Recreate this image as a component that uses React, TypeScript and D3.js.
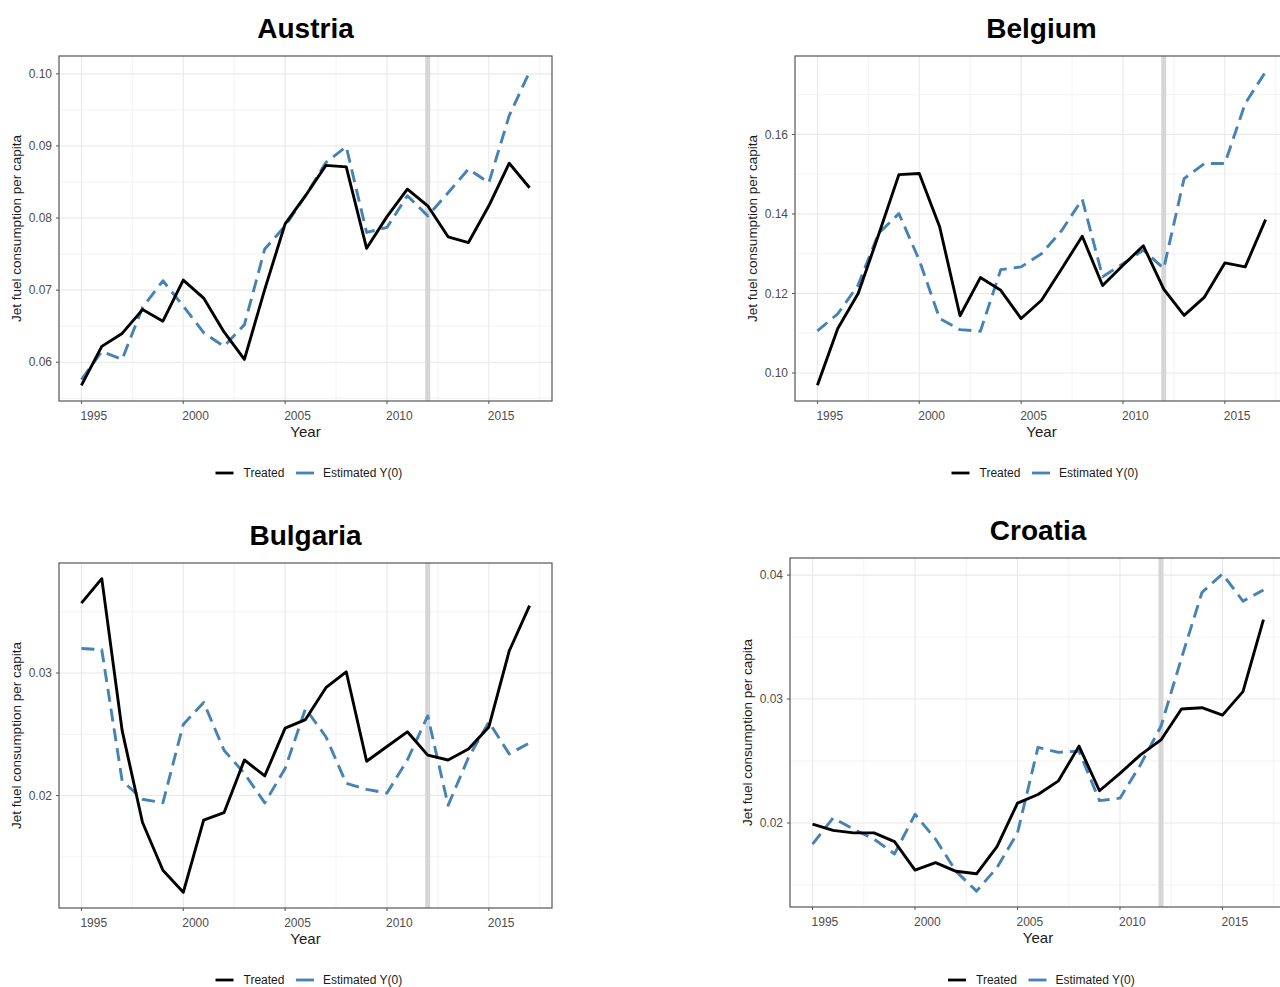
import React from "react";
import * as d3 from "d3";

// Years on the horizontal axis
const years = [
  1995, 1996, 1997, 1998, 1999, 2000, 2001, 2002, 2003, 2004, 2005, 2006,
  2007, 2008, 2009, 2010, 2011, 2012, 2013, 2014, 2015, 2016, 2017,
];

// Jet fuel consumption per capita: observed (treated) and synthetic estimate Y(0)
const austriaTreated = [
  0.0568, 0.0622, 0.064, 0.0673, 0.0657, 0.0714, 0.0689, 0.0642, 0.0604, 0.0701,
  0.0792, 0.0831, 0.0873, 0.0871, 0.0758, 0.0802, 0.084, 0.0817, 0.0774, 0.0766,
  0.0817, 0.0876, 0.0842,
];
const austriaEstimated = [
  0.0576, 0.0615, 0.0604, 0.0676, 0.0713, 0.0678, 0.0641, 0.0622, 0.0652, 0.0757,
  0.0789, 0.0831, 0.0877, 0.0899, 0.078, 0.0787, 0.0831, 0.0803, 0.0835, 0.0868,
  0.0849, 0.0942, 0.1003,
];
const belgiumTreated = [
  0.0969, 0.1112, 0.12, 0.1347, 0.1499, 0.1502, 0.1368, 0.1144, 0.124, 0.1208,
  0.1137, 0.1183, 0.1263, 0.1344, 0.122, 0.1271, 0.132, 0.1211, 0.1145, 0.1191,
  0.1277, 0.1267, 0.1386,
];
const belgiumEstimated = [
  0.1106, 0.1149, 0.1221, 0.1351, 0.1401, 0.1284, 0.1137, 0.1109, 0.1105, 0.126,
  0.1267, 0.13, 0.1359, 0.1437, 0.1242, 0.1275, 0.1309, 0.1263, 0.1489, 0.1527,
  0.1527, 0.1678, 0.1758,
];
const bulgariaTreated = [
  0.0357, 0.0377, 0.0253, 0.0178, 0.0139, 0.0121, 0.018, 0.0186, 0.0229, 0.0216,
  0.0255, 0.0262, 0.0288, 0.0301, 0.0228, 0.024, 0.0252, 0.0233, 0.0229, 0.0238,
  0.0256, 0.0318, 0.0355,
];
const bulgariaEstimated = [
  0.032, 0.0319, 0.0212, 0.0197, 0.0194, 0.0258, 0.0276, 0.0237, 0.0218, 0.0194,
  0.0222, 0.0271, 0.0248, 0.021, 0.0205, 0.0202, 0.0229, 0.0265, 0.0192, 0.0231,
  0.026, 0.0234, 0.0243,
];
const croatiaTreated = [
  0.0199, 0.0194, 0.0192, 0.0192, 0.0185, 0.0162, 0.0168, 0.0161, 0.0159, 0.0181,
  0.0216, 0.0223, 0.0234, 0.0262, 0.0226, 0.024, 0.0255, 0.0267, 0.0292, 0.0293,
  0.0287, 0.0306, 0.0364,
];
const croatiaEstimated = [
  0.0183, 0.0204, 0.0195, 0.0187, 0.0175, 0.0207, 0.0187, 0.0161, 0.0145, 0.0164,
  0.0192, 0.0261, 0.0257, 0.0258, 0.0218, 0.022, 0.0247, 0.0278, 0.0333, 0.0386,
  0.0401, 0.0379, 0.0388,
];

// Axis ticks
const xTicks = [1995, 2000, 2005, 2010, 2015];
const austriaTicks = [0.06, 0.07, 0.08, 0.09, 0.1];
const belgiumTicks = [0.1, 0.12, 0.14, 0.16];
const bulgariaTicks = [0.02, 0.03];
const croatiaTicks = [0.02, 0.03, 0.04];

// Treatment year marker
const treatmentYear = 2012;

const legendLabels = ["Treated", "Estimated Y(0)"];
const xTitle = "Year";
const yTitle = "Jet fuel consumption per capita";

const FONT = "'Liberation Sans', Arial, Helvetica, sans-serif";
const TREATED_COLOR = "#000000";
const ESTIMATE_COLOR = "#4682B4";

type PanelSpec = {
  title: string;
  treated: number[];
  estimated: number[];
  yTicks: number[];
  left: number;
  right: number;
  top: number;
  bottom: number;
  titleY: number;
  legendY: number;
};

const panels: PanelSpec[] = [
  { title: "Austria", treated: austriaTreated, estimated: austriaEstimated, yTicks: austriaTicks, left: 59, right: 552, top: 56, bottom: 401, titleY: 38, legendY: 473 },
  { title: "Belgium", treated: belgiumTreated, estimated: belgiumEstimated, yTicks: belgiumTicks, left: 795, right: 1288, top: 56, bottom: 401, titleY: 38, legendY: 473 },
  { title: "Bulgaria", treated: bulgariaTreated, estimated: bulgariaEstimated, yTicks: bulgariaTicks, left: 59, right: 552, top: 563, bottom: 908, titleY: 545, legendY: 980 },
  { title: "Croatia", treated: croatiaTreated, estimated: croatiaEstimated, yTicks: croatiaTicks, left: 790, right: 1286, top: 558, bottom: 907, titleY: 540, legendY: 980 },
];

function expand(lo: number, hi: number, f = 0.05): [number, number] {
  const pad = (hi - lo) * f;
  return [lo - pad, hi + pad];
}

function minorsOf(ticks: number[], domain: [number, number]): number[] {
  const step = ticks[1] - ticks[0];
  const out: number[] = [];
  const start = ticks[0] - step * 2;
  for (let v = start + step / 2; v <= domain[1] + 1e-9; v += step) {
    if (v >= domain[0] && v <= domain[1]) out.push(+v.toFixed(6));
  }
  return out;
}

function Panel({ p }: { p: PanelSpec }) {
  const xDomain = expand(years[0], years[years.length - 1]);
  const x = d3.scaleLinear().domain(xDomain).range([p.left, p.right]);
  const all = [...p.treated, ...p.estimated];
  const yDomain = expand(d3.min(all)!, d3.max(all)!);
  const y = d3.scaleLinear().domain(yDomain).range([p.bottom, p.top]);

  const xMinor = minorsOf(xTicks, xDomain);
  const yMinor = minorsOf(p.yTicks, yDomain);
  const fmt = d3.format(".2f");

  const line = d3
    .line<number>()
    .x((_, i) => x(years[i]))
    .y((d) => y(d));

  const cx = (p.left + p.right) / 2;
  const cy = (p.top + p.bottom) / 2;
  const clipId = `clip-${p.title}`;

  return (
    <g>
      <defs>
        <clipPath id={clipId}>
          <rect x={p.left} y={p.top} width={p.right - p.left} height={p.bottom - p.top} />
        </clipPath>
      </defs>
      <rect x={p.left} y={p.top} width={p.right - p.left} height={p.bottom - p.top} fill="#ffffff" />
      <g clipPath={`url(#${clipId})`}>
        {yMinor.map((v) => (
          <line key={`ym${v}`} x1={p.left} x2={p.right} y1={y(v)} y2={y(v)} stroke="#f0f0f0" strokeWidth={0.8} />
        ))}
        {xMinor.map((v) => (
          <line key={`xm${v}`} x1={x(v)} x2={x(v)} y1={p.top} y2={p.bottom} stroke="#f0f0f0" strokeWidth={0.8} />
        ))}
        {p.yTicks.map((v) => (
          <line key={`yg${v}`} x1={p.left} x2={p.right} y1={y(v)} y2={y(v)} stroke="#e8e8e8" strokeWidth={1.1} />
        ))}
        {xTicks.map((v) => (
          <line key={`xg${v}`} x1={x(v)} x2={x(v)} y1={p.top} y2={p.bottom} stroke="#e8e8e8" strokeWidth={1.1} />
        ))}
        <line x1={x(treatmentYear)} x2={x(treatmentYear)} y1={p.top} y2={p.bottom} stroke="#d6d6d6" strokeWidth={5} />
        <path d={line(p.estimated) ?? ""} fill="none" stroke={ESTIMATE_COLOR} strokeWidth={2.9} strokeDasharray="13 7" strokeLinejoin="round" />
        <path d={line(p.treated) ?? ""} fill="none" stroke={TREATED_COLOR} strokeWidth={2.9} strokeLinejoin="round" />
      </g>
      <rect x={p.left} y={p.top} width={p.right - p.left} height={p.bottom - p.top} fill="none" stroke="#555555" strokeWidth={1.2} />

      {/* x axis */}
      {xTicks.map((v) => (
        <g key={`xt${v}`}>
          <line x1={x(v)} x2={x(v)} y1={p.bottom} y2={p.bottom + 3} stroke="#555555" strokeWidth={1} />
          <text x={x(v) - 1} y={p.bottom + 19} fontSize={12} fill="#4d4d4d" fontFamily={FONT}>
            {v}
          </text>
        </g>
      ))}
      <text x={cx} y={p.bottom + 36} fontSize={15} textAnchor="middle" fill="#1a1a1a" fontFamily={FONT}>
        {xTitle}
      </text>

      {/* y axis */}
      {p.yTicks.map((v) => (
        <g key={`yt${v}`}>
          <line x1={p.left - 3} x2={p.left} y1={y(v)} y2={y(v)} stroke="#555555" strokeWidth={1} />
          <text x={p.left - 7} y={y(v)} dy="0.35em" fontSize={12} textAnchor="end" fill="#4d4d4d" fontFamily={FONT}>
            {fmt(v)}
          </text>
        </g>
      ))}
      <text
        transform={`translate(${p.left - 38},${cy}) rotate(-90)`}
        fontSize={13.5}
        textAnchor="middle"
        fill="#1a1a1a"
        fontFamily={FONT}
      >
        {yTitle}
      </text>

      {/* title */}
      <text x={cx} y={p.titleY} fontSize={28} fontWeight="bold" textAnchor="middle" fill="#000000" fontFamily={FONT}>
        {p.title}
      </text>

      {/* legend */}
      <g transform={`translate(${cx},${p.legendY})`}>
        <line x1={-90} x2={-72} y1={0} y2={0} stroke={TREATED_COLOR} strokeWidth={2.8} />
        <text x={-62} y={0} dy="0.35em" fontSize={12} fill="#1a1a1a" fontFamily={FONT}>
          {legendLabels[0]}
        </text>
        <line x1={-9.5} x2={8.5} y1={0} y2={0} stroke={ESTIMATE_COLOR} strokeWidth={2.8} />
        <text x={17.5} y={0} dy="0.35em" fontSize={12} fill="#1a1a1a" fontFamily={FONT}>
          {legendLabels[1]}
        </text>
      </g>
    </g>
  );
}

export default function App() {
  return (
    <svg
      width={1280}
      height={987}
      viewBox="0 0 1280 987"
      style={{ position: "absolute", left: 0, top: 0, background: "#ffffff", overflow: "hidden" }}
    >
      <rect x={0} y={0} width={1280} height={987} fill="#ffffff" />
      {panels.map((p) => (
        <Panel key={p.title} p={p} />
      ))}
    </svg>
  );
}
